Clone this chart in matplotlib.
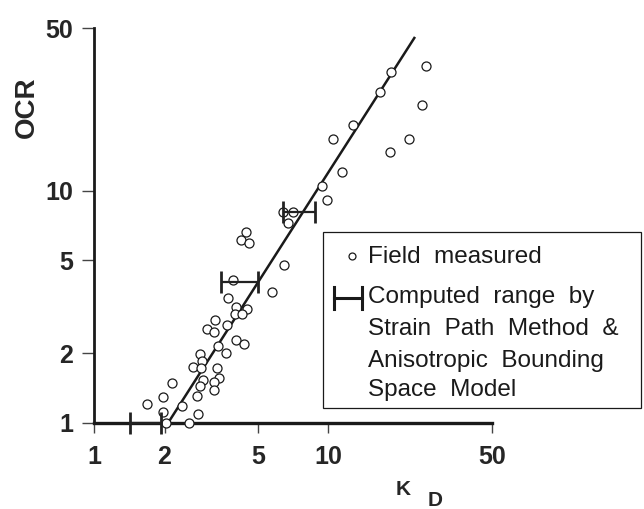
import matplotlib
matplotlib.use('Agg')
import numpy as np
import matplotlib.pyplot as plt
from matplotlib.lines import Line2D
from matplotlib.patches import Rectangle

# 현장 측정값 (K_D, OCR)
kd_field = [6.49, 3.93, 5.76, 3.74, 4.04, 4.51, 4.01, 4.29, 3.29, 3.04,
            3.26, 3.70, 3.39, 4.04, 4.38, 3.66, 2.84, 2.89, 2.65, 2.87,
            3.35, 3.42, 3.26, 2.92, 2.84, 3.26, 2.15, 2.75, 1.97, 1.68,
            2.38, 1.97, 2.78, 2.03, 2.55, 9.42, 9.90, 6.42, 7.08, 6.75,
            4.46, 4.25, 4.60, 26.2, 18.6, 16.7, 25.2, 12.7, 10.5, 22.2,
            18.4, 11.5]
ocr_field = [4.78, 4.12, 3.66, 3.45, 3.16, 3.09, 2.94, 2.94, 2.77, 2.54,
             2.46, 2.64, 2.14, 2.28, 2.19, 2.00, 1.98, 1.85, 1.74, 1.72,
             1.72, 1.56, 1.50, 1.53, 1.44, 1.39, 1.49, 1.31, 1.29, 1.21,
             1.18, 1.11, 1.09, 1.00, 1.00, 10.45, 9.10, 8.08, 8.08, 7.25,
             6.63, 6.12, 5.94, 34.3, 32.3, 26.5, 23.3, 19.1, 16.7, 16.7,
             14.6, 12.0]

# 상관 직선 양 끝
kd_fit = [2.07, 23.3]
ocr_fit = [1.0, 45.3]

# 계산 범위 (Strain Path Method)
ocr_range = [8.08, 4.04, 1.0]
kd_range_lo = [6.42, 3.49, 1.43]
kd_range_hi = [8.80, 5.02, 1.93]

ticks = [1, 2, 5, 10, 50]
tick_labels = ['1', '2', '5', '10', '50']

ink = '#1a1a1a'

fig = plt.figure(figsize=(6.44, 5.09), dpi=100)
ax = fig.add_axes([94/644, 1-423/509, 398/644, 395/509])
ax.set_xscale('log')
ax.set_yscale('log')
ax.set_xlim(1, 50)
ax.set_ylim(1, 50)

ax.plot(kd_fit, ocr_fit, color=ink, lw=1.8, zorder=2)
ax.plot(kd_field, ocr_field, 'o', ms=6.5, mfc='white', mec=ink, mew=0.9,
        clip_on=False, zorder=3)

lo = np.array(kd_range_lo)
hi = np.array(kd_range_hi)
ax.errorbar(lo, ocr_range, xerr=[np.zeros_like(lo), hi - lo], fmt='none',
            ecolor='#222222', elinewidth=1.6, capsize=8, capthick=2.0,
            clip_on=False, zorder=4)

for s in ['top', 'right']:
    ax.spines[s].set_visible(False)
ax.spines['left'].set_linewidth(2.0)
ax.spines['bottom'].set_linewidth(2.4)
ax.spines['left'].set_color(ink)
ax.spines['bottom'].set_color(ink)

ax.set_xticks(ticks)
ax.set_xticklabels(tick_labels)
ax.set_yticks(ticks)
ax.set_yticklabels(tick_labels)
ax.minorticks_off()
ax.tick_params(axis='y', length=9, width=1.0, pad=6, color='#444444')
ax.tick_params(axis='x', length=7.5, width=1.0, pad=8, color='#444444')
for lab in ax.get_xticklabels() + ax.get_yticklabels():
    lab.set_fontfamily('Liberation Sans')
    lab.set_fontweight('bold')
    lab.set_fontsize(18)
    lab.set_color('#262626')

# 축 제목
fig.text(27/644, 1-107/509, 'OCR', rotation=90, ha='center', va='center',
         fontsize=20, fontweight='bold', family='Liberation Sans', color='#262626')
fig.text(396/644, 1-495/509, 'K', ha='left', va='baseline',
         fontsize=15, fontweight='bold', family='Liberation Sans', color='#262626')
fig.text(428/644, 1-506/509, 'D', ha='left', va='baseline',
         fontsize=15, fontweight='bold', family='Liberation Sans', color='#262626')

# 범례 상자
fig.add_artist(Rectangle((323/644, 1-408/509), 318/644, 176/509,
                         transform=fig.transFigure, fill=False, lw=0.9, ec=ink))
fig.add_artist(Line2D([352/644], [1-256/509], marker='o', ms=5, mfc='white',
                      mec=ink, mew=0.9, transform=fig.transFigure))
fig.add_artist(Line2D([334/644, 362/644], [1-298/509, 1-298/509], color=ink,
                      lw=2.2, transform=fig.transFigure))
for xp in [334, 362]:
    fig.add_artist(Line2D([xp/644, xp/644], [1-287/509, 1-309/509], color=ink,
                          lw=2.2, transform=fig.transFigure))

legend_lines = ['Field  measured', 'Computed  range  by', 'Strain  Path  Method  &',
                'Anisotropic  Bounding', 'Space  Model']
baselines = [263, 303, 335, 367, 396]
for txt, b in zip(legend_lines, baselines):
    fig.text(368/644, 1-b/509, txt, ha='left', va='baseline', fontsize=17.5,
             family='Liberation Sans', color=ink)

fig.savefig('out.png', dpi=100)
